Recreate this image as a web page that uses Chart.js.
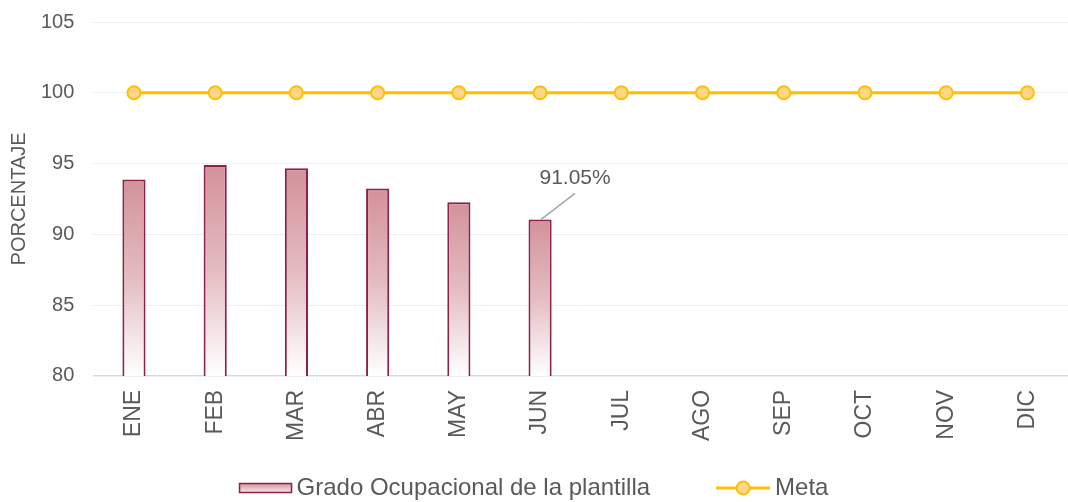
<!DOCTYPE html>
<html lang="es">
<head>
<meta charset="UTF-8">
<title>Grado Ocupacional</title>
<script src="https://cdn.jsdelivr.net/npm/chart.js"></script>
<style>
    html, body { margin: 0; padding: 0; background: #fff; }
    #grafico { width: 1068px; height: 502px; }
</style>
</head>
<body>
<div id="grafico"><canvas id="graficoOcupacional"></canvas></div>
<script>
    // datos
    var meses = ['ENE', 'FEB', 'MAR', 'ABR', 'MAY', 'JUN', 'JUL', 'AGO', 'SEP', 'OCT', 'NOV', 'DIC'];
    var gradoOcupacional = [93.87, 94.9, 94.67, 93.24, 92.27, 91.05, null, null, null, null, null, null];
    var meta = [100, 100, 100, 100, 100, 100, 100, 100, 100, 100, 100, 100];
    var ticksY = [80, 85, 90, 95, 100, 105];

    var gris = '#595959';
    var fuente = "'Liberation Sans', Arial, sans-serif";

    function degradado(ctx) {
        var chart = ctx.chart;
        if (!chart.chartArea || ctx.raw == null) return '#d4919a';
        var arriba = chart.scales.y.getPixelForValue(ctx.raw);
        var g = chart.ctx.createLinearGradient(0, arriba, 0, chart.chartArea.bottom);
        g.addColorStop(0, '#d4919a');
        g.addColorStop(0.5, '#e3bcc1');
        g.addColorStop(1, '#ffffff');
        return g;
    }

    // etiqueta del ultimo mes con linea guia
    var etiquetaUltimo = {
        id: 'etiquetaUltimo',
        afterDatasetsDraw: function (chart) {
            var datos = chart.data.datasets[0].data;
            var idx = -1;
            datos.forEach(function (v, i) { if (v != null) idx = i; });
            if (idx < 0) return;
            var el = chart.getDatasetMeta(0).data[idx];
            var c = chart.ctx;
            c.save();
            c.strokeStyle = '#a6a6a6';
            c.lineWidth = 1.5;
            c.beginPath();
            c.moveTo(el.x + 1, el.y);
            c.lineTo(el.x + 35, el.y - 26);
            c.stroke();
            c.fillStyle = gris;
            c.font = '21px ' + fuente;
            c.textAlign = 'center';
            c.textBaseline = 'middle';
            c.fillText(datos[idx].toFixed(2) + '%', el.x + 35, el.y - 41);
            c.restore();
        }
    };

    // leyenda abajo, dibujada a mano
    var leyenda = {
        id: 'leyenda',
        afterDraw: function (chart) {
            var c = chart.ctx;
            var ds = chart.data.datasets;
            c.save();
            c.font = '24px ' + fuente;
            var w0 = c.measureText(ds[0].label).width;
            var w1 = c.measureText(ds[1].label).width;
            var total = 52 + 5 + w0 + 66 + 54 + 5 + w1;
            var x = (chart.width - total) / 2;
            var y = chart.height - 14;

            var g = c.createLinearGradient(0, y - 5, 0, y + 5);
            g.addColorStop(0, '#d4919a');
            g.addColorStop(1, '#f7eaec');
            c.fillStyle = g;
            c.fillRect(x, y - 4.5, 52, 9);
            c.strokeStyle = ds[0].borderColor;
            c.lineWidth = 1.5;
            c.strokeRect(x, y - 4.5, 52, 9);
            x += 57;
            c.fillStyle = gris;
            c.textBaseline = 'middle';
            c.fillText(ds[0].label, x, y);
            x += w0 + 66;

            c.strokeStyle = ds[1].borderColor;
            c.lineWidth = 3;
            c.beginPath();
            c.moveTo(x, y);
            c.lineTo(x + 54, y);
            c.stroke();
            c.beginPath();
            c.arc(x + 27, y, 6.5, 0, Math.PI * 2);
            c.fillStyle = ds[1].pointBackgroundColor;
            c.fill();
            c.lineWidth = 2;
            c.stroke();
            x += 59;
            c.fillStyle = gris;
            c.fillText(ds[1].label, x, y);
            c.restore();
        }
    };

    new Chart(document.getElementById('graficoOcupacional').getContext('2d'), {
        type: 'bar',
        data: {
            labels: meses,
            datasets: [{
                type: 'bar',
                label: 'Grado Ocupacional de la plantilla',
                data: gradoOcupacional,
                backgroundColor: degradado,
                borderColor: '#8c2148',
                borderWidth: 2,
                categoryPercentage: 1,
                barPercentage: 0.285,
                order: 1
            }, {
                type: 'line',
                label: 'Meta',
                data: meta,
                borderColor: '#ffc000',
                borderWidth: 3,
                pointRadius: 6.5,
                pointBackgroundColor: '#ffd68a',
                pointBorderColor: '#ffc000',
                pointBorderWidth: 2,
                order: 0
            }]
        },
        options: {
            responsive: true,
            maintainAspectRatio: false,
            animation: false,
            layout: { autoPadding: false, padding: { top: -5, left: 2, right: -2, bottom: 47 } },
            plugins: {
                legend: { display: false },
                tooltip: { enabled: false }
            },
            scales: {
                x: {
                    afterFit: function (axis) {
                        axis.paddingLeft = 0;
                        axis.paddingRight = 0;
                    },
                    grid: { display: false, drawTicks: false },
                    border: { color: '#d9d9d9', width: 1.5 },
                    ticks: {
                        color: gris,
                        font: { family: fuente, size: 23 },
                        minRotation: 90,
                        maxRotation: 90,
                        padding: 14
                    }
                },
                y: {
                    min: 80,
                    max: 105,
                    afterBuildTicks: function (axis) {
                        axis.ticks = ticksY.map(function (v) { return { value: v }; });
                    },
                    grid: { color: '#eeeeee', drawTicks: true, tickLength: 9, tickColor: 'rgba(0,0,0,0)' },
                    border: { display: false },
                    ticks: {
                        color: gris,
                        font: { family: fuente, size: 20 },
                        padding: 10
                    },
                    title: {
                        display: true,
                        text: 'PORCENTAJE',
                        color: gris,
                        font: { family: fuente, size: 20 },
                        padding: { top: 5, bottom: 0 }
                    }
                }
            }
        },
        plugins: [etiquetaUltimo, leyenda]
    });
</script>
</body>
</html>
